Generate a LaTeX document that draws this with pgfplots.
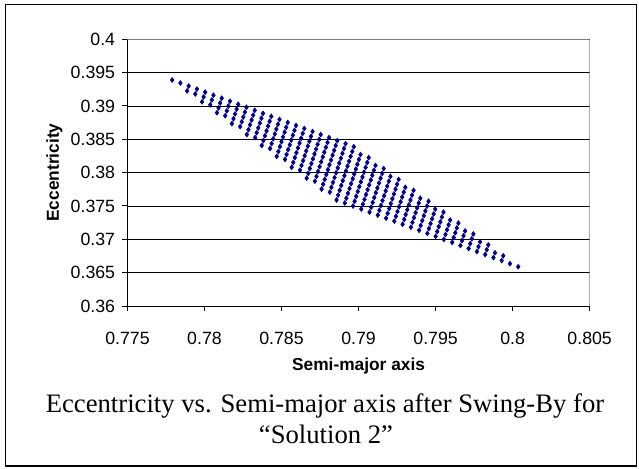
\documentclass[border=0pt]{standalone}
\usepackage{pgfplots}
\pgfplotsset{compat=1.18}
\usepackage{fontspec}
\setmainfont{Liberation Serif}
\newfontfamily\arial{Liberation Sans}
\definecolor{navyblue}{RGB}{0,0,128}
\begin{document}
\begin{tikzpicture}[x=1pt,y=1pt]
\useasboundingbox (0,0) rectangle (479.25,351);
\draw[line width=0.9pt] (4,1.5) rectangle (477.5,347.5);
\begin{axis}[
  at={(95.6pt,121.5pt)}, anchor=south west,
  scale only axis, width=346.65pt, height=200pt,
  xmin=0.775, xmax=0.805, ymin=0.36, ymax=0.4,
  xtick={0.775,0.78,0.785,0.79,0.795,0.8,0.805},
  xticklabels={0.775,0.78,0.785,0.79,0.795,0.8,0.805},
  ytick={0.36,0.365,0.37,0.375,0.38,0.385,0.39,0.395,0.4},
  yticklabels={0.36,0.365,0.37,0.375,0.38,0.385,0.39,0.395,0.4},
  axis x line*=bottom, axis y line*=left,
  tick align=outside, major tick length=3.75pt,
  ymajorgrids, grid style={black, line width=0.7pt},
  axis line style={black, line width=0.75pt},
  tick style={black, line width=0.75pt},
  ticklabel style={font=\arial\fontsize{13.3}{15}\selectfont},
  xticklabel style={yshift=-12pt},
  yticklabel style={xshift=-2pt},
  xlabel={Semi-major axis}, ylabel={Eccentricity},
  label style={font=\arial\bfseries\fontsize{13}{15}\selectfont},
  xlabel style={at={(axis description cs:0.5,-0.225)}, anchor=center},
  ylabel style={at={(axis description cs:-0.158,0.5)}, anchor=center, rotate=0},
]
\draw[gray, line width=0.75pt] (rel axis cs:0,1) -- (rel axis cs:1,1) -- (rel axis cs:1,0);
\addplot[only marks, mark=diamond*, mark size=1.85pt, navyblue, mark options={draw=navyblue, fill=navyblue}] coordinates {
(0.777900,0.393900)(0.778436,0.393445)(0.778972,0.392990)(0.779508,0.392535)(0.780044,0.392080)(0.780580,0.391625)(0.781116,0.391170)(0.781652,0.390715)(0.782188,0.390260)(0.782724,0.389805)(0.783260,0.389350)(0.783796,0.388895)(0.784332,0.388440)(0.784868,0.387985)(0.785404,0.387530)(0.785940,0.387075)(0.786476,0.386620)(0.787012,0.386165)(0.787548,0.385710)(0.788084,0.385255)(0.788620,0.384800)(0.789156,0.384345)(0.789692,0.383890)
(0.778870,0.392264)(0.779406,0.391809)(0.779942,0.391354)(0.780478,0.390899)(0.781014,0.390444)(0.781550,0.389989)(0.782086,0.389534)(0.782622,0.389079)(0.783158,0.388624)(0.783694,0.388169)(0.784230,0.387714)(0.784766,0.387259)(0.785302,0.386804)(0.785838,0.386349)(0.786374,0.385894)(0.786910,0.385439)(0.787446,0.384984)(0.787982,0.384529)(0.788518,0.384074)(0.789054,0.383619)(0.789590,0.383164)(0.790126,0.382709)(0.790662,0.382254)
(0.779840,0.390628)(0.780376,0.390173)(0.780912,0.389718)(0.781448,0.389263)(0.781984,0.388808)(0.782520,0.388353)(0.783056,0.387898)(0.783592,0.387443)(0.784128,0.386988)(0.784664,0.386533)(0.785200,0.386078)(0.785736,0.385623)(0.786272,0.385168)(0.786808,0.384713)(0.787344,0.384258)(0.787880,0.383803)(0.788416,0.383348)(0.788952,0.382893)(0.789488,0.382438)(0.790024,0.381983)(0.790560,0.381528)(0.791096,0.381073)(0.791632,0.380618)
(0.780810,0.388992)(0.781346,0.388537)(0.781882,0.388082)(0.782418,0.387627)(0.782954,0.387172)(0.783490,0.386717)(0.784026,0.386262)(0.784562,0.385807)(0.785098,0.385352)(0.785634,0.384897)(0.786170,0.384442)(0.786706,0.383987)(0.787242,0.383532)(0.787778,0.383077)(0.788314,0.382622)(0.788850,0.382167)(0.789386,0.381712)(0.789922,0.381257)(0.790458,0.380802)(0.790994,0.380347)(0.791530,0.379892)(0.792066,0.379437)(0.792602,0.378982)
(0.781780,0.387356)(0.782316,0.386901)(0.782852,0.386446)(0.783388,0.385991)(0.783924,0.385536)(0.784460,0.385081)(0.784996,0.384626)(0.785532,0.384171)(0.786068,0.383716)(0.786604,0.383261)(0.787140,0.382806)(0.787676,0.382351)(0.788212,0.381896)(0.788748,0.381441)(0.789284,0.380986)(0.789820,0.380531)(0.790356,0.380076)(0.790892,0.379621)(0.791428,0.379166)(0.791964,0.378711)(0.792500,0.378256)(0.793036,0.377801)(0.793572,0.377346)
(0.782750,0.385720)(0.783286,0.385265)(0.783822,0.384810)(0.784358,0.384355)(0.784894,0.383900)(0.785430,0.383445)(0.785966,0.382990)(0.786502,0.382535)(0.787038,0.382080)(0.787574,0.381625)(0.788110,0.381170)(0.788646,0.380715)(0.789182,0.380260)(0.789718,0.379805)(0.790254,0.379350)(0.790790,0.378895)(0.791326,0.378440)(0.791862,0.377985)(0.792398,0.377530)(0.792934,0.377075)(0.793470,0.376620)(0.794006,0.376165)(0.794542,0.375710)
(0.783720,0.384084)(0.784256,0.383629)(0.784792,0.383174)(0.785328,0.382719)(0.785864,0.382264)(0.786400,0.381809)(0.786936,0.381354)(0.787472,0.380899)(0.788008,0.380444)(0.788544,0.379989)(0.789080,0.379534)(0.789616,0.379079)(0.790152,0.378624)(0.790688,0.378169)(0.791224,0.377714)(0.791760,0.377259)(0.792296,0.376804)(0.792832,0.376349)(0.793368,0.375894)(0.793904,0.375439)(0.794440,0.374984)(0.794976,0.374529)(0.795512,0.374074)
(0.784690,0.382448)(0.785226,0.381993)(0.785762,0.381538)(0.786298,0.381083)(0.786834,0.380628)(0.787370,0.380173)(0.787906,0.379718)(0.788442,0.379263)(0.788978,0.378808)(0.789514,0.378353)(0.790050,0.377898)(0.790586,0.377443)(0.791122,0.376988)(0.791658,0.376533)(0.792194,0.376078)(0.792730,0.375623)(0.793266,0.375168)(0.793802,0.374713)(0.794338,0.374258)(0.794874,0.373803)(0.795410,0.373348)(0.795946,0.372893)(0.796482,0.372438)
(0.785660,0.380812)(0.786196,0.380357)(0.786732,0.379902)(0.787268,0.379447)(0.787804,0.378992)(0.788340,0.378537)(0.788876,0.378082)(0.789412,0.377627)(0.789948,0.377172)(0.790484,0.376717)(0.791020,0.376262)(0.791556,0.375807)(0.792092,0.375352)(0.792628,0.374897)(0.793164,0.374442)(0.793700,0.373987)(0.794236,0.373532)(0.794772,0.373077)(0.795308,0.372622)(0.795844,0.372167)(0.796380,0.371712)(0.796916,0.371257)(0.797452,0.370802)
(0.786630,0.379176)(0.787166,0.378721)(0.787702,0.378266)(0.788238,0.377811)(0.788774,0.377356)(0.789310,0.376901)(0.789846,0.376446)(0.790382,0.375991)(0.790918,0.375536)(0.791454,0.375081)(0.791990,0.374626)(0.792526,0.374171)(0.793062,0.373716)(0.793598,0.373261)(0.794134,0.372806)(0.794670,0.372351)(0.795206,0.371896)(0.795742,0.371441)(0.796278,0.370986)(0.796814,0.370531)(0.797350,0.370076)(0.797886,0.369621)(0.798422,0.369166)
(0.787600,0.377540)(0.788136,0.377085)(0.788672,0.376630)(0.789208,0.376175)(0.789744,0.375720)(0.790280,0.375265)(0.790816,0.374810)(0.791352,0.374355)(0.791888,0.373900)(0.792424,0.373445)(0.792960,0.372990)(0.793496,0.372535)(0.794032,0.372080)(0.794568,0.371625)(0.795104,0.371170)(0.795640,0.370715)(0.796176,0.370260)(0.796712,0.369805)(0.797248,0.369350)(0.797784,0.368895)(0.798320,0.368440)(0.798856,0.367985)(0.799392,0.367530)
(0.788570,0.375904)(0.789106,0.375449)(0.789642,0.374994)(0.790178,0.374539)(0.790714,0.374084)(0.791250,0.373629)(0.791786,0.373174)(0.792322,0.372719)(0.792858,0.372264)(0.793394,0.371809)(0.793930,0.371354)(0.794466,0.370899)(0.795002,0.370444)(0.795538,0.369989)(0.796074,0.369534)(0.796610,0.369079)(0.797146,0.368624)(0.797682,0.368169)(0.798218,0.367714)(0.798754,0.367259)(0.799290,0.366804)(0.799826,0.366349)(0.800362,0.365894)
};
\end{axis}
\node[font=\fontsize{20}{24}\selectfont, anchor=base] at (243.75,42) {Eccentricity vs. Semi-major axis after Swing-By for};
\node[font=\fontsize{20}{24}\selectfont, anchor=base] at (244.5,18.75) {“Solution 2”};
\end{tikzpicture}
\end{document}
